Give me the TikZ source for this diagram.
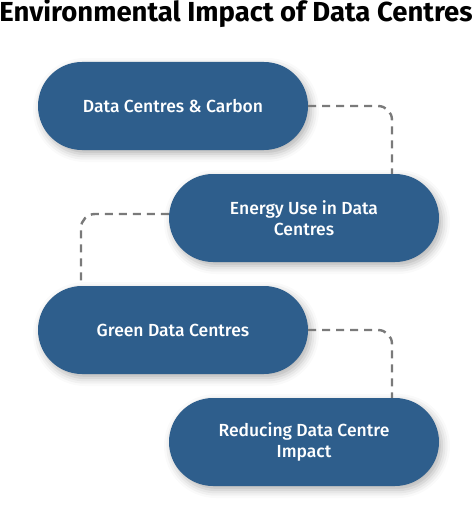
\documentclass[tikz,border=0pt]{standalone}
\usepackage{fontspec}
\setmainfont{Fira Sans}
\newfontfamily\pillfont{Fira Sans}[UprightFont=* Medium]
\usetikzlibrary{shadows.blur}
\definecolor{pillblue}{HTML}{2E5E8C}
\definecolor{dashgray}{HTML}{7A7A7A}
\begin{document}
\begin{tikzpicture}[x=1pt,y=1pt,
		pill/.style={fill=pillblue, text=white, rounded corners=44pt, minimum width=270pt, minimum height=88pt, align=center, font=\pillfont\fontsize{17.5}{21}\selectfont, blur shadow={shadow xshift=3pt, shadow yshift=-4pt, shadow blur radius=8pt, shadow opacity=30}},
		link/.style={dashgray, line width=2.4pt, dash pattern=on 8pt off 6pt, rounded corners=14pt}]
	\useasboundingbox (0,0) rectangle (472,-519);
	\node [anchor=base, font=\fontsize{27.5}{32}\selectfont\bfseries] (title) at (236,-22) {Environmental Impact of Data Centres};

	\node [pill] (carbon) at (173,-106) {Data Centres \& Carbon};
	\node [pill] (energy) at (304,-218) {Energy Use in Data\\Centres};
	\node [pill] (green) at (173,-330) {Green Data Centres};
	\node [pill] (reducing) at (304,-442) {Reducing Data Centre\\Impact};

	\draw [link] (carbon.east) -| ([xshift=88pt]energy.north);
	\draw [link] ([yshift=4pt]energy.west) -| ([xshift=-92pt]green.north);
	\draw [link] (green.east) -| ([xshift=88pt]reducing.north);
\end{tikzpicture}
\end{document}
